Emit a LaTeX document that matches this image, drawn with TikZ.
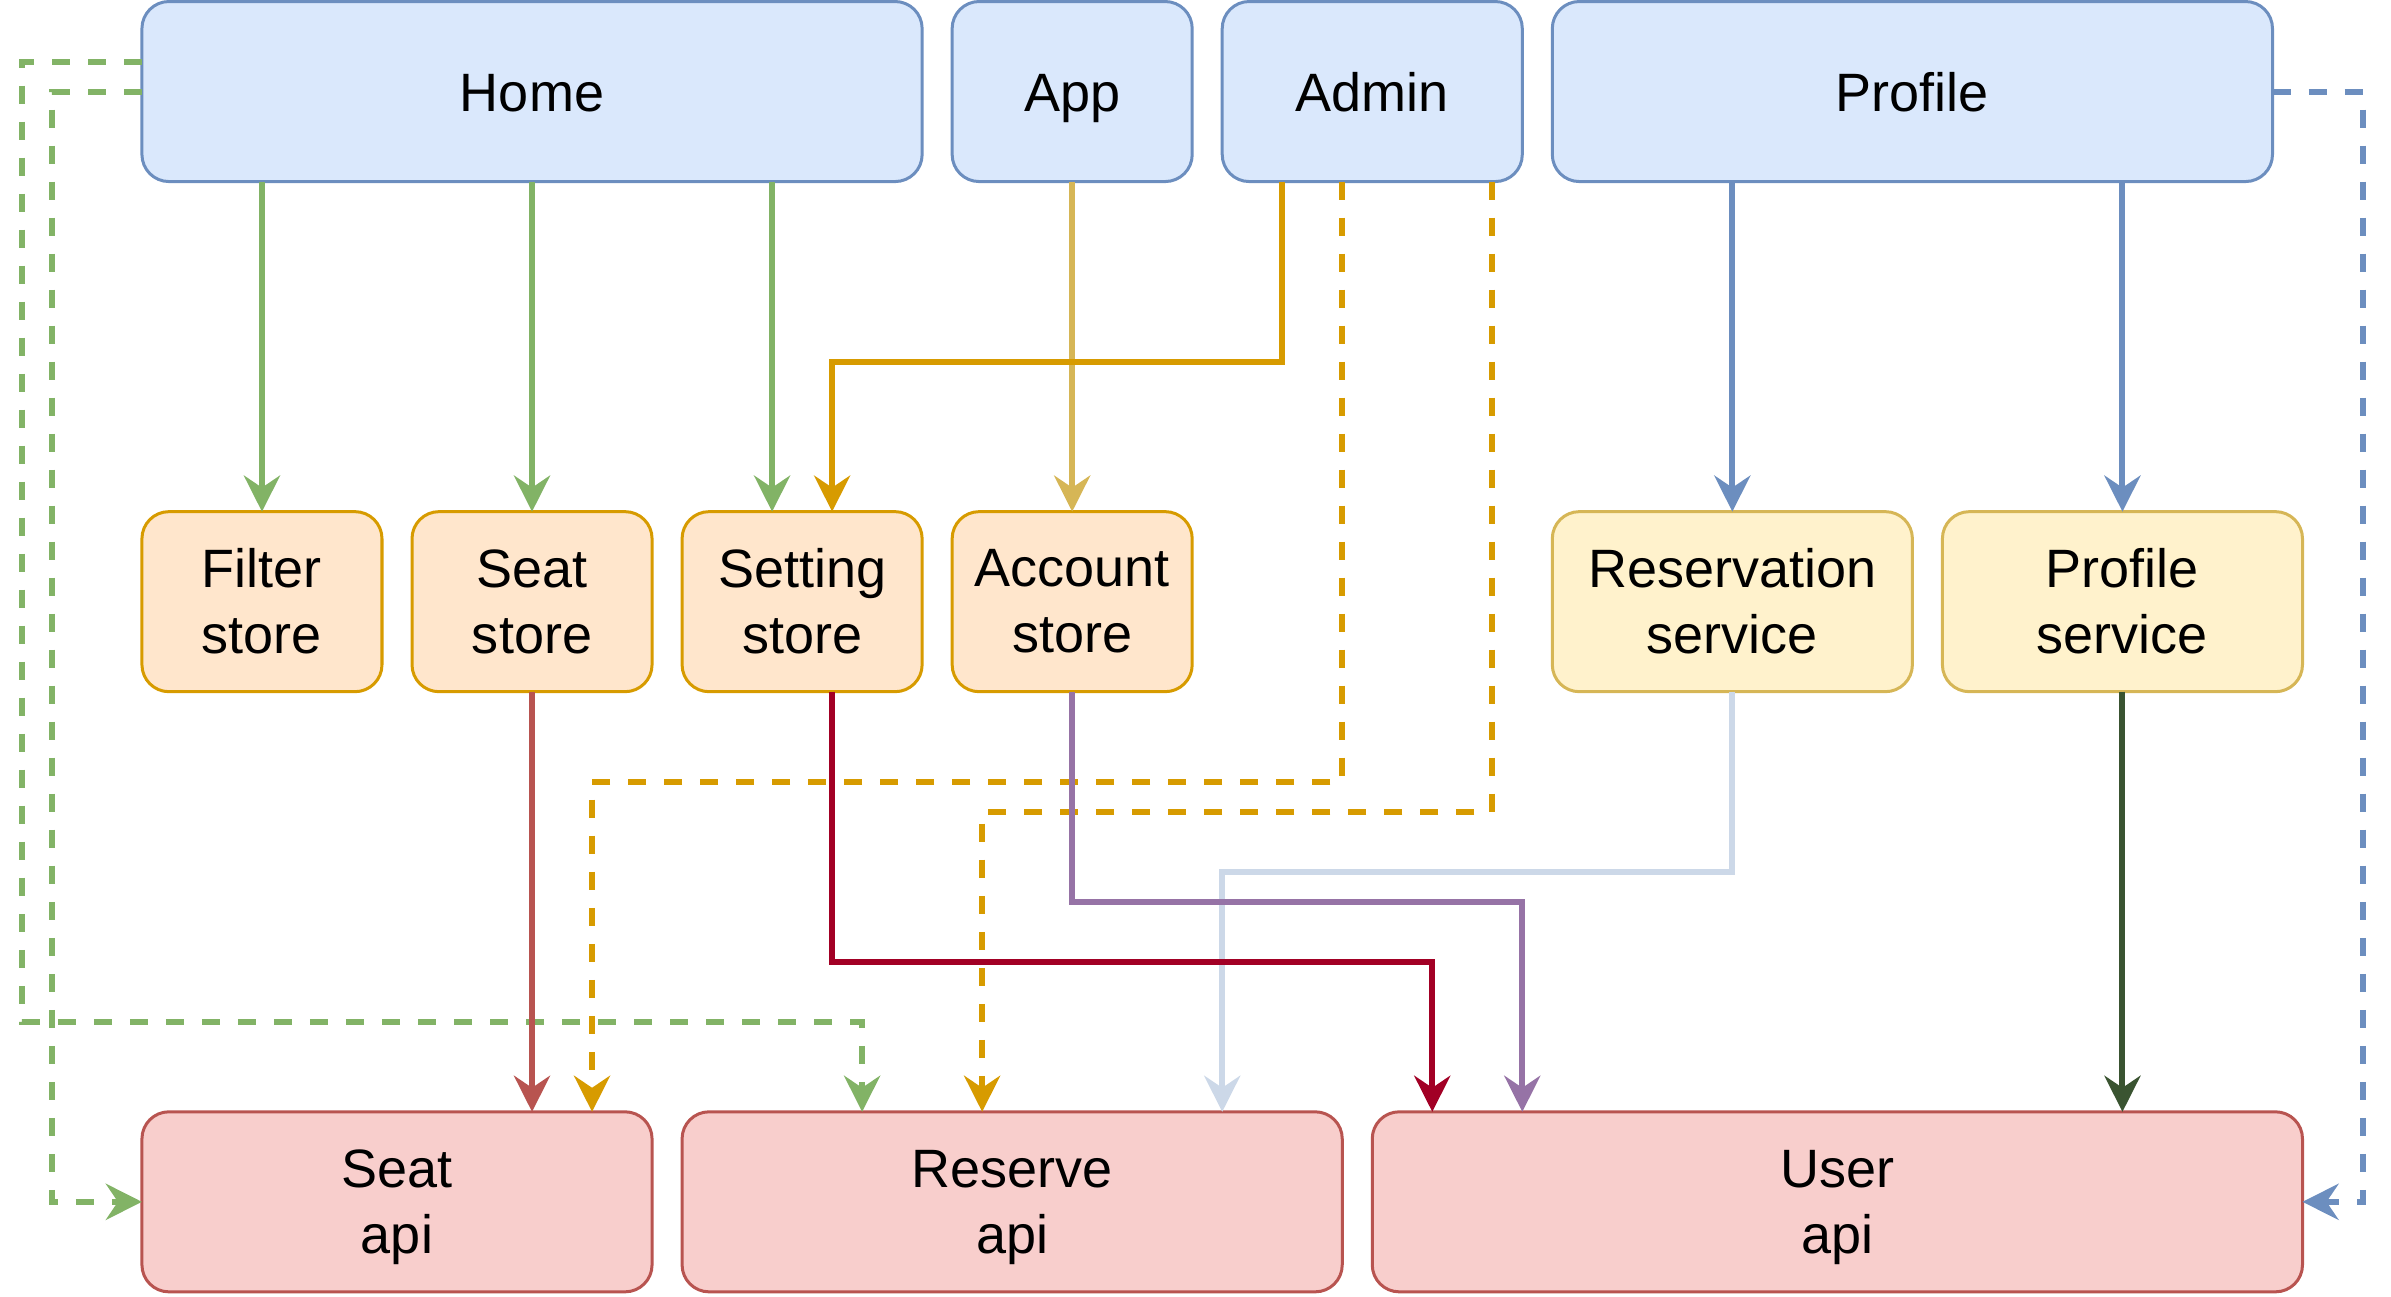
\documentclass[tikz,border=0pt]{standalone}
\usepackage{fontspec}
\setmainfont{Liberation Sans}
\usetikzlibrary{arrows.meta}
\definecolor{topfill}{HTML}{DAE8FC}
\definecolor{topdraw}{HTML}{6C8EBF}
\definecolor{storefill}{HTML}{FFE6CC}
\definecolor{storedraw}{HTML}{D79B00}
\definecolor{svcfill}{HTML}{FFF2CC}
\definecolor{svcdraw}{HTML}{D6B656}
\definecolor{apifill}{HTML}{F8CECC}
\definecolor{apidraw}{HTML}{B85450}
\definecolor{cgreen}{HTML}{82B366}
\definecolor{ccrimson}{HTML}{A20025}
\definecolor{cpurple}{HTML}{9673A6}
\definecolor{clightblue}{HTML}{CCD8E8}
\definecolor{cdarkgreen}{HTML}{3A5431}
\tikzset{
  box/.style={draw, line width=1pt, rounded corners=9pt, anchor=north west,
    inner sep=0pt, outer sep=0pt, align=center, minimum height=60pt,
    font=\fontsize{18}{22}\selectfont},
  topbox/.style={box, fill=topfill, draw=topdraw, text height=13pt, text depth=0pt},
  storebox/.style={box, fill=storefill, draw=storedraw},
  svcbox/.style={box, fill=svcfill, draw=svcdraw},
  apibox/.style={box, fill=apifill, draw=apidraw, text depth=0pt},
  edge/.style={line width=2pt, -{Stealth[length=12pt,width=12pt,inset=4pt]}},
  dedge/.style={edge, dash pattern=on 6pt off 6pt},
}
\begin{document}
\begin{tikzpicture}[x=1pt,y=-1pt]
\useasboundingbox (-47.3,-0.5) rectangle (749.5,431.4);
% top row
\node[topbox, minimum width=260pt] (home) at (0,0) {Home};
\node[topbox, minimum width=80pt] (app) at (270,0) {App};
\node[topbox, minimum width=100pt] (admin) at (360,0) {Admin};
\node[topbox, minimum width=240pt] (profile) at (470,0) {Profile};
% middle row
\node[storebox, minimum width=80pt] (filter) at (0,170) {Filter\\store};
\node[storebox, minimum width=80pt] (seatstore) at (90,170) {Seat\\store};
\node[storebox, minimum width=80pt] (setting) at (180,170) {Setting\\store};
\node[storebox, minimum width=80pt] (account) at (270,170) {Account\\store};
\node[svcbox, minimum width=120pt] (resvsvc) at (470,170) {Reservation\\service};
\node[svcbox, minimum width=120pt] (profsvc) at (600,170) {Profile\\service};
% bottom row
\node[apibox, minimum width=170pt] (seatapi) at (0,370) {Seat\\api};
\node[apibox, minimum width=220pt] (reserveapi) at (180,370) {Reserve\\api};
\node[apibox, minimum width=310pt] (userapi) at (410,370) {User\\api};
% helper coordinates
\coordinate (settingL) at ([xshift=-10pt]setting.north);
\coordinate (settingR) at ([xshift=10pt]setting.north);
\coordinate (settingRb) at ([xshift=10pt]setting.south);
\coordinate (adminA) at ([xshift=20pt]admin.south west);
\coordinate (adminB) at ([xshift=-10pt]admin.south);
\coordinate (adminC) at ([xshift=-10pt]admin.south east);
\coordinate (seatapiB) at ([xshift=-20pt]seatapi.north east);
\coordinate (reserveA) at ([xshift=60pt]reserveapi.north west);
\coordinate (reserveB) at ([xshift=-10pt]reserveapi.north);
\coordinate (reserveC) at ([xshift=-40pt]reserveapi.north east);
\coordinate (userA) at ([xshift=20pt]userapi.north west);
\coordinate (userB) at ([xshift=50pt]userapi.north west);
\coordinate (homeA) at ([yshift=10pt]home.west);
% Home edges
\draw[edge, draw=cgreen] (filter.north |- home.south) -- (filter.north);
\draw[edge, draw=cgreen] (seatstore.north |- home.south) -- (seatstore.north);
\draw[edge, draw=cgreen] (settingL |- home.south) -- (settingL);
\draw[dedge, draw=cgreen] (homeA) -- ++(-40,0) -- ++(0,320) -| (reserveA);
\draw[dedge, draw=cgreen] (home.west) -- ++(-30,0) |- (seatapi.west);
% App
\draw[edge, draw=svcdraw] (app.south) -- (account.north);
% Admin
\draw[dedge, draw=storedraw] (adminB) -- ++(0,200) -| (seatapiB);
\draw[dedge, draw=storedraw] (adminC) -- ++(0,210) -| (reserveB);
\draw[edge, draw=storedraw] (adminA) -- ++(0,60) -| (settingR);
% Profile
\draw[edge, draw=topdraw] (resvsvc.north |- profile.south) -- (resvsvc.north);
\draw[edge, draw=topdraw] (profsvc.north |- profile.south) -- (profsvc.north);
\draw[dedge, draw=topdraw] (profile.east) -- ++(30,0) |- (userapi.east);
% middle to bottom
\draw[edge, draw=apidraw] (seatstore.south) -- (seatstore.south |- seatapi.north);
\draw[edge, draw=clightblue] (resvsvc.south) -- ++(0,60) -| (reserveC);
\draw[edge, draw=cpurple] (account.south) -- ++(0,70) -| (userB);
\draw[edge, draw=ccrimson] (settingRb) -- ++(0,90) -| (userA);
\draw[edge, draw=cdarkgreen] (profsvc.south) -- (profsvc.south |- userapi.north);
\end{tikzpicture}
\end{document}
